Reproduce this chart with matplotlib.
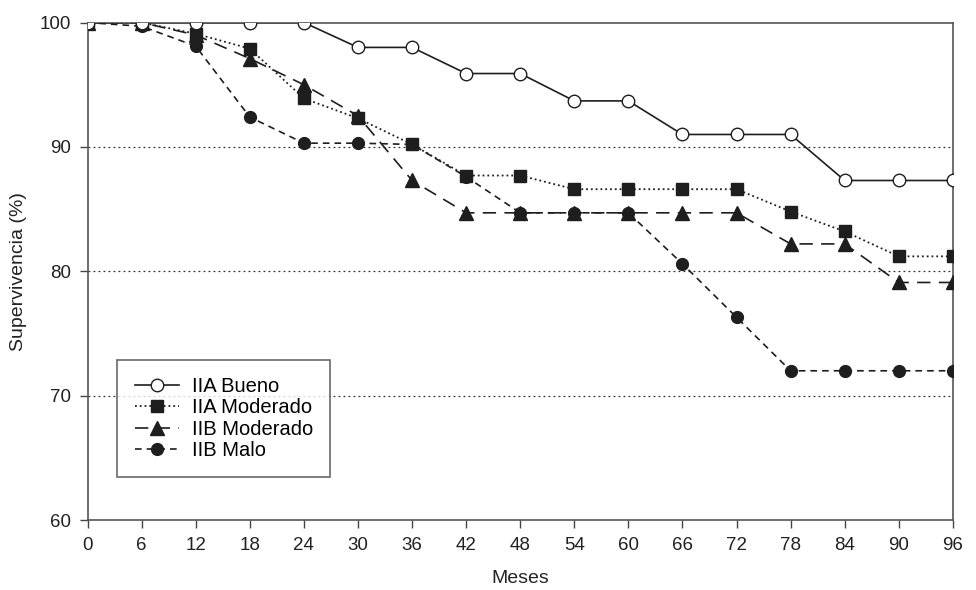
import numpy as np
import matplotlib.pyplot as plt

plt.rcParams['font.family'] = ['Liberation Sans', 'DejaVu Sans']

meses = [0, 6, 12, 18, 24, 30, 36, 42, 48, 54, 60, 66, 72, 78, 84, 90, 96]

iia_bueno = [100, 100, 100, 100, 100, 98.0, 98.0, 95.9, 95.9, 93.7, 93.7,
             91.0, 91.0, 91.0, 87.3, 87.3, 87.3]
iia_moderado = [100, 100, 99.1, 97.9, 93.9, 92.3, 90.2, 87.7, 87.7, 86.6, 86.6,
                86.6, 86.6, 84.8, 83.2, 81.2, 81.2]
iib_moderado = [100, 100, 99.0, 97.1, 95.0, 92.5, 87.3, 84.7, 84.7, 84.7, 84.7,
                84.7, 84.7, 82.2, 82.2, 79.1, 79.1]
iib_malo = [100, 99.7, 98.1, 92.4, 90.3, 90.3, 90.2, 87.6, 84.7, 84.7, 84.7,
            80.6, 76.3, 72.0, 72.0, 72.0, 72.0]

fig = plt.figure(figsize=(9.76, 5.9), dpi=100)
ax = fig.add_axes([0.0897, 0.1186, 0.8866, 0.8432])

c = '#1e1e1e'
ax.plot(meses, iia_bueno, '-', color=c, lw=1.2, marker='o', ms=9,
        mfc='white', mec=c, mew=1.0, label='IIA Bueno', zorder=4)
ax.plot(meses, iia_moderado, ':', color=c, lw=1.3, marker='s', ms=9,
        mfc=c, mec=c, label='IIA Moderado', zorder=3)
ax.plot(meses, iib_moderado, color=c, lw=1.2, dashes=(8, 5), marker='^', ms=9.5,
        mfc=c, mec=c, label='IIB Moderado', zorder=3)
ax.plot(meses, iib_malo, color=c, lw=1.2, dashes=(4, 3), marker='o', ms=8.5,
        mfc=c, mec=c, label='IIB Malo', zorder=3)

# lineas de referencia punteadas
for yv in [70, 80, 90]:
    ax.axhline(yv, color='#333333', lw=0.9, ls=(0, (1.5, 2.5)), zorder=1)

ax.set_xlim(0, 96)
ax.set_ylim(60, 100)
ax.set_xticks(meses)
ax.set_yticks([60, 70, 80, 90, 100])
ax.tick_params(direction='out', length=6, width=1, color='#444444',
               labelsize=13.5, labelcolor='#222222', pad=6)
for s in ax.spines.values():
    s.set_color('#555555')
    s.set_linewidth(1.2)

ax.set_xlabel('Meses', fontsize=14, color='#222222', labelpad=12)
ax.set_ylabel('Supervivencia (%)', fontsize=14, color='#222222', labelpad=9)

leg = ax.legend(loc='lower left', bbox_to_anchor=(0.0345, 0.086), fontsize=14.5,
                frameon=True, fancybox=False, edgecolor='#444444',
                handlelength=2.2, borderpad=0.85, labelspacing=0.12,
                borderaxespad=0, handletextpad=0.65)
leg.get_frame().set_linewidth(1.2)

fig.savefig('out.png', dpi=100)
